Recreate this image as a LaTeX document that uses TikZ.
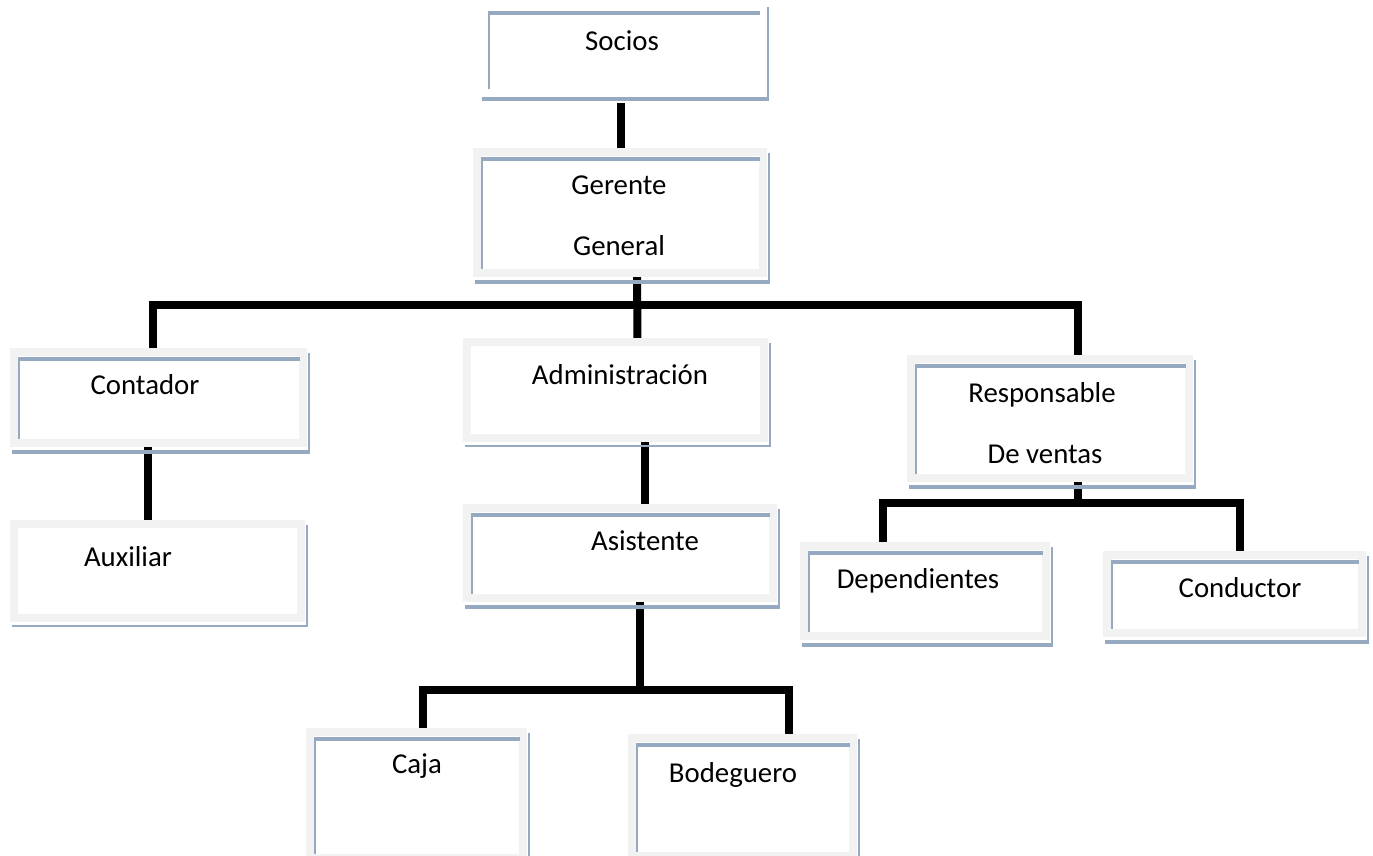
\documentclass[tikz,border=0pt]{standalone}
\usepackage{fontspec}
\setmainfont{Carlito}
\usetikzlibrary{backgrounds}
\definecolor{gframe}{RGB}{242,242,242}
\definecolor{bshade}{RGB}{149,170,192}
\newcommand\fullbox[1]{%
  \draw[bshade, line width=4pt] ([xshift=4pt,yshift=-7pt]#1.north west) -- ([xshift=-3pt,yshift=-7pt]#1.north east);
  \draw[bshade, line width=2pt] ([xshift=5pt,yshift=-7pt]#1.north west) -- ([xshift=5pt,yshift=4pt]#1.south west);
  \draw[bshade, line width=2.5pt] ([xshift=6pt,yshift=-1pt]#1.north east) -- ([xshift=6pt,yshift=-7pt]#1.south east);
  \draw[bshade, line width=4pt] ([xshift=-2pt,yshift=-9pt]#1.south west) -- ([xshift=7.25pt,yshift=-9pt]#1.south east);
}
\newcommand\thinbox[1]{%
  \draw[bshade, line width=2pt] ([xshift=6pt,yshift=-1pt]#1.north east) -- ([xshift=6pt,yshift=-9pt]#1.south east);
  \draw[bshade, line width=2pt] ([xshift=-2pt,yshift=-8pt]#1.south west) -- ([xshift=7pt,yshift=-8pt]#1.south east);
}
\begin{document}
\begin{tikzpicture}[x=1pt,y=-1pt,
  box/.style={rectangle, draw=gframe, line width=8pt, fill=white, inner sep=0pt, outer sep=0pt},
  lbl/.style={anchor=base, inner sep=0pt, font=\fontsize{28.8}{34}\selectfont},
  conn/.style={draw=black, line width=8pt, line join=miter}]
\useasboundingbox (0,0) rectangle (1373,855);

% Socios (no frame)
\node[rectangle, inner sep=0pt, outer sep=0pt, minimum width=272pt, minimum height=82pt] (socios) at (625,54) {};
\draw[bshade, line width=4pt] ([xshift=-1pt,yshift=0pt]socios.north west) -- ([xshift=-1pt]socios.north east);
\draw[bshade, line width=2.5pt] ([yshift=2pt]socios.north west) -- ([yshift=6pt]socios.south west);
\draw[bshade, line width=2.5pt] ([xshift=7pt,yshift=6pt]socios.north east) -- ([xshift=7pt,yshift=-6pt]socios.south east);
\draw[bshade, line width=4pt] ([xshift=-7pt,yshift=-4pt]socios.south west) -- ([xshift=8.25pt,yshift=-4pt]socios.south east);

% boxes
\node[box, minimum width=286pt, minimum height=121pt] (gerente) at (620,212.5) {};
\node[box, minimum width=289pt, minimum height=91pt] (contador) at (158.5,397.5) {};
\node[box, minimum width=297pt, minimum height=96pt] (adm) at (615.5,390) {};
\node[box, minimum width=278pt, minimum height=119pt] (resp) at (1050,418.5) {};
\node[box, minimum width=287pt, minimum height=94pt] (aux) at (157.5,571) {};
\node[box, minimum width=306pt, minimum height=90pt] (asist) at (620,553) {};
\node[box, minimum width=242pt, minimum height=90pt] (dep) at (925,591) {};
\node[box, minimum width=255pt, minimum height=78pt] (cond) at (1234.5,594) {};
\node[box, minimum width=213pt, minimum height=126pt] (caja) at (416.5,795) {};
\node[box, minimum width=221pt, minimum height=118pt] (bod) at (742.5,797) {};

\fullbox{gerente}
\fullbox{contador}
\thinbox{adm}
\fullbox{resp}
\thinbox{aux}
\fullbox{asist}
\fullbox{dep}
\fullbox{cond}
\fullbox{caja}
\fullbox{bod}

% labels
\node[lbl] (tsocios) at (622,50) {Socios};
\node[lbl] (tger1) at (619,194) {Gerente};
\node[lbl] (tger2) at (619,255) {General};
\node[lbl] (tcont) at (145,394) {Contador};
\node[lbl] (tadm) at (620,384) {Administración};
\node[lbl] (tresp1) at (1042,402) {Responsable};
\node[lbl] (tresp2) at (1045,463) {De ventas};
\node[lbl] (taux) at (128,566) {Auxiliar};
\node[lbl] (tasist) at (645,550) {Asistente};
\node[lbl] (tdep) at (918,588) {Dependientes};
\node[lbl] (tcond) at (1240,597) {Conductor};
\node[lbl] (tcaja) at (417,773) {Caja};
\node[lbl] (tbod) at (733,782) {Bodeguero};

% connectors
\coordinate (bus1) at (637,305);
\coordinate (bus2) at (640,690);
\coordinate (bus3) at (1078,503);
\begin{pgfonlayer}{background}
\draw[conn] ([xshift=-4pt,yshift=-8pt]socios.south) -- ([xshift=1pt]gerente.north);
\draw[conn] ([xshift=17pt]gerente.south) -- ([xshift=22pt]adm.north);
\draw[conn] ([xshift=-6pt]contador.north) |- (bus1) -| ([xshift=28pt]resp.north);
\draw[conn] ([xshift=-11pt]contador.south) -- ([xshift=-10pt]aux.north);
\draw[conn] ([xshift=29.5pt]adm.south) -- ([xshift=25pt]asist.north);
\draw[conn] ([xshift=20pt]asist.south) -- (bus2);
\draw[conn] ([xshift=6.5pt]caja.north) |- (bus2) -| ([xshift=46.5pt]bod.north);
\draw[conn] ([xshift=28pt]resp.south) -- (bus3);
\draw[conn] ([xshift=-42pt]dep.north) |- (bus3) -| ([xshift=5.5pt]cond.north);
\end{pgfonlayer}
\end{tikzpicture}
\end{document}
